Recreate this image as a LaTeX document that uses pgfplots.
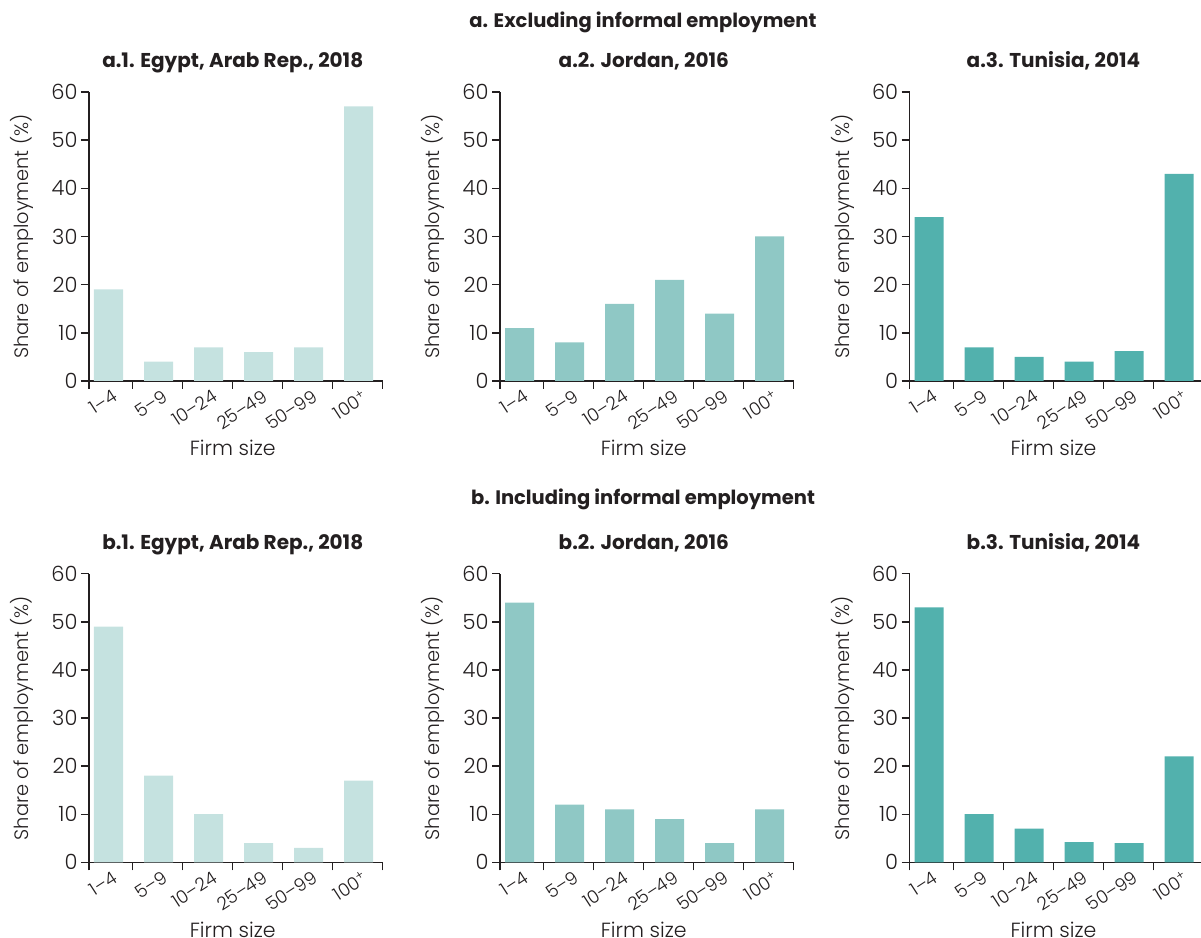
\documentclass[border=0pt]{standalone}
\usepackage{fontspec}
\setmainfont{Poppins Light}[BoldFont=Poppins Bold]
\usepackage{pgfplots}
\pgfplotsset{compat=1.18}

\definecolor{tealA}{HTML}{C5E2E0}
\definecolor{tealB}{HTML}{8FC8C5}
\definecolor{tealC}{HTML}{52B1AD}
\definecolor{ink}{HTML}{231F20}

\pgfplotsset{
  panel/.style={
    scale only axis, width=293.5pt, height=289pt,
    xmin=-0.39, xmax=5.48, ymin=0, ymax=60,
    axis lines=left,
    axis line style={ink, line width=1.4pt, -},
    ytick={0,10,...,60},
    xtick={0,...,5},
    xticklabels={1–4,5–9,10–24,25–49,50–99,100\textsuperscript{+}},
    minor xtick={-0.39,0.48,1.48,2.48,3.48,4.48,5.48},
    major x tick style={draw=none},
    tick align=outside,
    major tick length=8pt, minor tick length=8pt,
    every tick/.style={ink, line width=1.4pt},
    /pgf/number format/assume math mode=true,
    yticklabel style={font=\fontsize{21}{25}\selectfont, text=ink},
    xticklabel style={font=\fontsize{18}{22}\selectfont, text=ink,
      rotate=33, anchor=north east, xshift=6pt, yshift=2pt},
    ylabel={Share of employment (\%)},
    every axis y label/.style={at={(0,0.5)}, xshift=-67pt, rotate=90,
      anchor=center, font=\fontsize{19.4}{23}\selectfont, text=ink},
    xlabel={Firm size},
    every axis x label/.style={at={(0.5,0)}, yshift=-75pt, xshift=-3pt,
      anchor=base, font=\fontsize{20.5}{24}\selectfont, text=ink},
    every axis title/.style={at={(0.5,1)}, yshift=24pt, xshift=-3pt,
      anchor=base, font=\bfseries\fontsize{20}{24}\selectfont, text=ink},
    anchor=south west,
  },
  bars/.style={ybar, bar width=0.58, draw=none, fill=#1},
}

\begin{document}
\begin{tikzpicture}
\useasboundingbox (0,0) rectangle (1201pt,937pt);

% Section headings
\node[anchor=base, font=\bfseries\fontsize{19.5}{23}\selectfont, text=ink]
  at (643pt,909pt) {a. Excluding informal employment};
\node[anchor=base, font=\bfseries\fontsize{19.5}{23}\selectfont, text=ink]
  at (643pt,432pt) {b. Including informal employment};

% a. Excluding informal employment
\begin{axis}[panel, at={(89pt,556pt)}, title={a.1. Egypt, Arab Rep., 2018}]
\addplot[bars=tealA] coordinates {(0,19) (1,4) (2,7) (3,6) (4,7) (5,57)};
\end{axis}
\begin{axis}[panel, at={(500pt,556pt)}, title={a.2. Jordan, 2016}]
\addplot[bars=tealB] coordinates {(0,11) (1,8) (2,16) (3,21) (4,14) (5,30)};
\end{axis}
\begin{axis}[panel, at={(909.7pt,556pt)}, title={a.3. Tunisia, 2014}]
\addplot[bars=tealC] coordinates {(0,34) (1,7) (2,5) (3,4) (4,6.2) (5,43)};
\end{axis}

% b. Including informal employment
\begin{axis}[panel, height=288.6pt, at={(89pt,74.7pt)}, title={b.1. Egypt, Arab Rep., 2018}]
\addplot[bars=tealA] coordinates {(0,49) (1,18) (2,10) (3,4) (4,3) (5,17)};
\end{axis}
\begin{axis}[panel, height=288.6pt, at={(500pt,74.7pt)}, title={b.2. Jordan, 2016}]
\addplot[bars=tealB] coordinates {(0,54) (1,12) (2,11) (3,9) (4,4) (5,11)};
\end{axis}
\begin{axis}[panel, height=288.6pt, at={(909.7pt,74.7pt)}, title={b.3. Tunisia, 2014}]
\addplot[bars=tealC] coordinates {(0,53) (1,10) (2,7) (3,4.2) (4,4) (5,22)};
\end{axis}
\end{tikzpicture}
\end{document}
